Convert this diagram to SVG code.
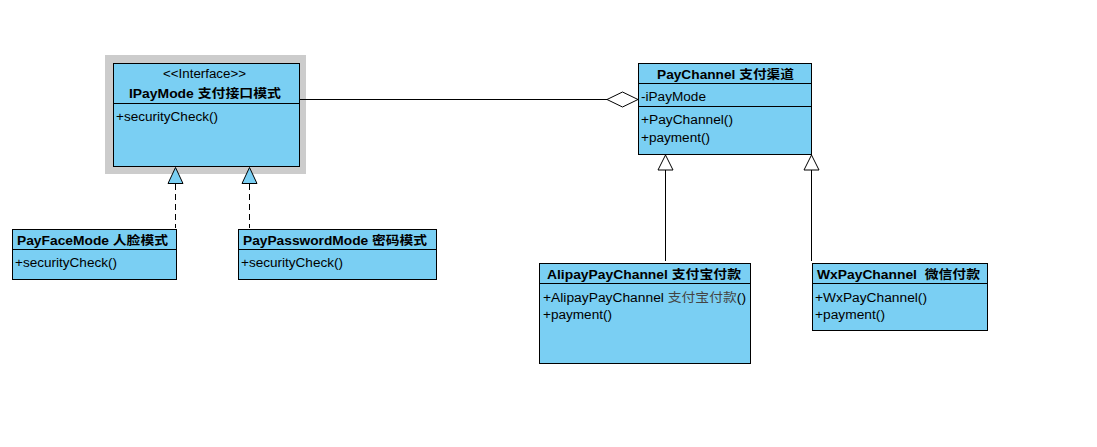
<svg xmlns="http://www.w3.org/2000/svg" width="1097" height="447" viewBox="0 0 1097 447">
<style>
.box{fill:#7ACFF3;stroke:#000;stroke-width:1}
.sep{stroke:#000;stroke-width:1}
.t{font-family:"Liberation Sans","Noto Sans CJK SC",sans-serif;font-size:12.5px;fill:#000}
.b{font-weight:bold}
.line{stroke:#000;stroke-width:1;fill:none}
.dash{stroke-dasharray:6,4}
.tri{fill:#fff;stroke:#000;stroke-width:1}
.trib{fill:#7ACFF3;stroke:#000;stroke-width:1}
</style>
<rect width="1097" height="447" fill="#fff"/>
<g id="IPayMode">
  <rect x="105" y="55" width="201" height="119" fill="#CCCCCC"/>
  <rect class="box" x="113.5" y="63.5" width="186" height="103"/>
  <line class="sep" x1="113.5" y1="103.5" x2="299.5" y2="103.5"/>
  <text class="t" x="204.5" y="78" text-anchor="middle" textLength="83" lengthAdjust="spacingAndGlyphs">&lt;&lt;Interface&gt;&gt;</text>
  <text class="t b" x="205" y="98" text-anchor="middle" textLength="152" lengthAdjust="spacingAndGlyphs">IPayMode 支付接口模式</text>
  <text class="t" x="116" y="121" textLength="102" lengthAdjust="spacingAndGlyphs">+securityCheck()</text>
</g>
<g id="connectors">
  <line class="line" x1="299.5" y1="99.5" x2="607" y2="99.5"/>
  <polygon class="tri" points="607,99.5 622.5,92 638,99.5 622.5,107"/>
  <line class="line dash" x1="175.5" y1="184" x2="175.5" y2="228"/>
  <polygon class="trib" points="175.5,167.5 168,183.5 183,183.5"/>
  <line class="line dash" x1="249.5" y1="184" x2="249.5" y2="228"/>
  <polygon class="trib" points="249.5,167.5 242,183.5 257,183.5"/>
  <line class="line" x1="665.5" y1="170" x2="665.5" y2="261"/>
  <polygon class="tri" points="665.5,155 658,170 673,170"/>
  <line class="line" x1="811.5" y1="170" x2="811.5" y2="261"/>
  <polygon class="tri" points="811.5,155 804,170 819,170"/>
</g>
<g id="PayFaceMode">
  <rect class="box" x="12.5" y="229.5" width="164" height="50"/>
  <line class="sep" x1="12.5" y1="249.5" x2="176.5" y2="249.5"/>
  <text class="t b" x="17" y="245" textLength="151" lengthAdjust="spacingAndGlyphs">PayFaceMode 人脸模式</text>
  <text class="t" x="15" y="267" textLength="102" lengthAdjust="spacingAndGlyphs">+securityCheck()</text>
</g>
<g id="PayPasswordMode">
  <rect class="box" x="238.5" y="229.5" width="198" height="50"/>
  <line class="sep" x1="238.5" y1="249.5" x2="436.5" y2="249.5"/>
  <text class="t b" x="243" y="245" textLength="184" lengthAdjust="spacingAndGlyphs">PayPasswordMode 密码模式</text>
  <text class="t" x="241" y="267" textLength="102" lengthAdjust="spacingAndGlyphs">+securityCheck()</text>
</g>
<g id="PayChannel">
  <rect class="box" x="638.5" y="63.5" width="173" height="91"/>
  <line class="sep" x1="638.5" y1="83.5" x2="811.5" y2="83.5"/>
  <line class="sep" x1="638.5" y1="106.5" x2="811.5" y2="106.5"/>
  <text class="t b" x="657" y="79" textLength="137" lengthAdjust="spacingAndGlyphs">PayChannel 支付渠道</text>
  <text class="t" x="641" y="101" textLength="65" lengthAdjust="spacingAndGlyphs">-iPayMode</text>
  <text class="t" x="641" y="124" textLength="92" lengthAdjust="spacingAndGlyphs">+PayChannel()</text>
  <text class="t" x="641" y="142" textLength="69" lengthAdjust="spacingAndGlyphs">+payment()</text>
</g>
<g id="AlipayPayChannel">
  <rect class="box" x="539.5" y="263.5" width="211" height="100"/>
  <line class="sep" x1="539.5" y1="283.5" x2="750.5" y2="283.5"/>
  <text class="t b" x="547" y="279" textLength="194" lengthAdjust="spacingAndGlyphs">AlipayPayChannel 支付宝付款</text>
  <text class="t" x="543" y="302" textLength="203" lengthAdjust="spacingAndGlyphs">+AlipayPayChannel <tspan fill="#444">支付宝付款</tspan>()</text>
  <text class="t" x="543" y="319" textLength="69" lengthAdjust="spacingAndGlyphs">+payment()</text>
</g>
<g id="WxPayChannel">
  <rect class="box" x="812.5" y="263.5" width="175" height="67"/>
  <line class="sep" x1="812.5" y1="283.5" x2="987.5" y2="283.5"/>
  <text class="t b" x="817" y="279" textLength="163" lengthAdjust="spacingAndGlyphs" xml:space="preserve">WxPayChannel  微信付款</text>
  <text class="t" x="815" y="302" textLength="112" lengthAdjust="spacingAndGlyphs">+WxPayChannel()</text>
  <text class="t" x="815" y="319" textLength="70" lengthAdjust="spacingAndGlyphs">+payment()</text>
</g>
</svg>
